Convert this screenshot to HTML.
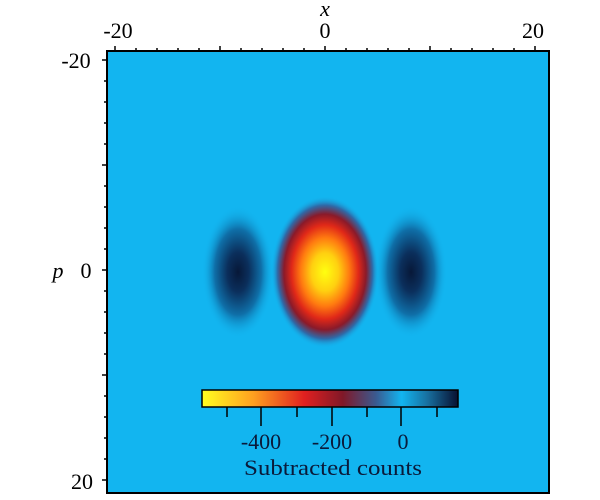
<!DOCTYPE html>
<html><head><style>
html,body{margin:0;padding:0;background:#fff;}
svg{display:block;font-family:"Liberation Serif",serif;}
</style></head><body>
<svg width="600" height="500" viewBox="0 0 600 500">
<defs>
<radialGradient id="c" cx="0.5" cy="0.5" r="0.5">
<stop offset="0" stop-color="#ffff10"/>
<stop offset="0.25" stop-color="#ffd010"/>
<stop offset="0.45" stop-color="#ff7a10"/>
<stop offset="0.62" stop-color="#e02818"/>
<stop offset="0.76" stop-color="#8a1a2a"/>
<stop offset="0.88" stop-color="#2f6aa8"/>
<stop offset="1" stop-color="#12b5f0" stop-opacity="0"/>
</radialGradient>
<radialGradient id="d" cx="0.5" cy="0.5" r="0.5">
<stop offset="0" stop-color="#071838"/>
<stop offset="0.3" stop-color="#0b2f5c"/>
<stop offset="0.65" stop-color="#0f6fa8"/>
<stop offset="1" stop-color="#12b5f0" stop-opacity="0"/>
</radialGradient>
<linearGradient id="cb" x1="0" x2="1" y1="0" y2="0">
<stop offset="0" stop-color="#ffff20"/>
<stop offset="0.2" stop-color="#ffa020"/>
<stop offset="0.4" stop-color="#e02020"/>
<stop offset="0.55" stop-color="#801828"/>
<stop offset="0.68" stop-color="#3a5a90"/>
<stop offset="0.78" stop-color="#12b5f0"/>
<stop offset="0.88" stop-color="#1870a0"/>
<stop offset="1" stop-color="#081030"/>
</linearGradient>
</defs>
<rect x="107" y="51" width="442" height="442" fill="#12b5f0"/>
<ellipse cx="238" cy="272" rx="36" ry="66" fill="url(#d)"/>
<ellipse cx="411" cy="272" rx="36" ry="66" fill="url(#d)"/>
<ellipse cx="325" cy="272" rx="54" ry="76" fill="url(#c)"/>
<rect x="107" y="51" width="442" height="442" fill="none" stroke="#000" stroke-width="2"/>
<g stroke="#000" stroke-width="1.5">
<path d="M115 46V51M136 48V51M157 48V51M178 48V51M199 48V51M220 46V51M241 48V51M262 48V51M283 48V51M304 48V51M325 46V51M346 48V51M367 48V51M388 48V51M409 48V51M430 46V51M451 48V51M472 48V51M493 48V51M514 48V51M535 46V51"/>
<path d="M102 60H107M104 81H107M104 102H107M104 123H107M104 144H107M102 165H107M104 186H107M104 207H107M104 228H107M104 249H107M102 270H107M104 291H107M104 312H107M104 333H107M104 354H107M102 375H107M104 396H107M104 417H107M104 438H107M104 459H107M102 480H107"/>
</g>
<g font-size="22" fill="#000" text-anchor="middle">
<text x="118" y="38">-20</text>
<text x="325" y="38">0</text>
<text x="533" y="38">20</text>
<text x="325" y="16" font-style="italic">x</text>
<text x="76" y="68">-20</text>
<text x="86" y="278">0</text>
<text x="82" y="489">20</text>
<text x="58" y="278" font-style="italic">p</text>
</g>
<rect x="202" y="390" width="256" height="17" fill="url(#cb)" stroke="#000" stroke-width="1.5"/>
<g stroke="#000" stroke-width="1.5">
<path d="M227 407V417M261 407V426M297 407V417M332 407V426M367 407V417M401 407V426M437 407V417"/>
</g>
<g font-size="22" fill="#0a1a3a" text-anchor="middle">
<text x="261" y="449">-400</text>
<text x="332" y="449">-200</text>
<text x="403" y="449">0</text>
<text x="333" y="475" textLength="178" lengthAdjust="spacingAndGlyphs">Subtracted counts</text>
</g>
</svg>
</body></html>
